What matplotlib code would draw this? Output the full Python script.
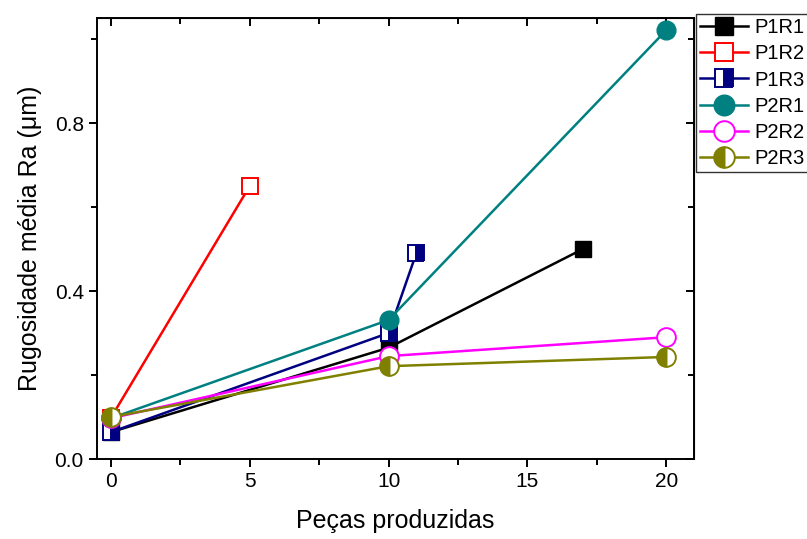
import matplotlib.pyplot as plt
from matplotlib.ticker import MultipleLocator

plt.rcParams['font.family'] = ['Liberation Sans', 'DejaVu Sans']

# Peças produzidas vs Ra (um)
p1r1_x = [0, 10, 17]
p1r1_y = [0.064, 0.265, 0.50]
p1r2_x = [0, 5]
p1r2_y = [0.098, 0.65]
p1r3_x = [0, 10, 11]
p1r3_y = [0.064, 0.30, 0.49]
p2r1_x = [0, 10, 20]
p2r1_y = [0.097, 0.331, 1.021]
p2r2_x = [0, 10, 20]
p2r2_y = [0.097, 0.245, 0.29]
p2r3_x = [0, 10, 20]
p2r3_y = [0.10, 0.221, 0.243]


def main():
    fig = plt.figure(figsize=(8.07, 5.39), dpi=100)
    ax = fig.add_axes([0.1202, 0.1484, 0.7398, 0.8182])

    lw = 1.8
    ax.plot(p1r1_x, p1r1_y, "-s", color="black", lw=lw, ms=11.5,
            mfc="black", mec="black", label="P1R1")
    ax.plot(p1r2_x, p1r2_y, "-s", color="red", lw=lw, ms=11.5,
            mfc="white", mec="red", mew=1.4, label="P1R2")
    ax.plot(p1r3_x, p1r3_y, "-s", color="#000080", lw=lw, ms=11.5,
            fillstyle="right", mfc="#000080", mfcalt="white", mec="#000080",
            mew=1.4, label="P1R3")
    ax.plot(p2r1_x, p2r1_y, "-o", color="#008080", lw=lw, ms=13.5,
            mfc="#008080", mec="#008080", label="P2R1")
    ax.plot(p2r2_x, p2r2_y, "-o", color="#ff00ff", lw=lw, ms=13.5,
            mfc="white", mec="#ff00ff", mew=1.4, label="P2R2")
    ax.plot(p2r3_x, p2r3_y, "-o", color="#808000", lw=lw, ms=13.5,
            fillstyle="left", mfc="#808000", mfcalt="white", mec="#808000",
            mew=1.4, label="P2R3")

    ax.set_xlim(-0.5, 21)
    ax.set_ylim(0, 1.05)
    ax.xaxis.set_major_locator(MultipleLocator(5))
    ax.xaxis.set_minor_locator(MultipleLocator(2.5))
    ax.yaxis.set_major_locator(MultipleLocator(0.4))
    ax.yaxis.set_minor_locator(MultipleLocator(0.2))
    ax.yaxis.set_major_formatter(plt.FuncFormatter(lambda v, p: "%.1f" % v))

    for s in ax.spines.values():
        s.set_linewidth(1.4)
    ax.tick_params(which="both", labelsize=15, width=1.4, direction="out")
    ax.tick_params(which="major", length=6)
    ax.tick_params(which="minor", length=4)

    # mirrored ticks on top/right point inward, no labels
    sx = ax.secondary_xaxis("top")
    sx.set_xticks([0, 5, 10, 15, 20])
    sx.set_xticks([2.5, 7.5, 12.5, 17.5], minor=True)
    sx.tick_params(which="both", direction="in", labeltop=False, width=1.4)
    sx.tick_params(which="major", length=6)
    sx.tick_params(which="minor", length=4)
    sy = ax.secondary_yaxis("right")
    sy.set_yticks([0, 0.4, 0.8])
    sy.set_yticks([0.2, 0.6, 1.0], minor=True)
    sy.tick_params(which="both", direction="in", labelright=False, width=1.4)
    sy.tick_params(which="major", length=6)
    sy.tick_params(which="minor", length=4)

    ax.set_xlabel("Peças produzidas", fontsize=18, labelpad=13)
    ax.set_ylabel("Rugosidade média Ra (μm)", fontsize=18, labelpad=9)

    leg = fig.legend(loc="upper left", bbox_to_anchor=(0.862, 0.974),
                     fontsize=14.5, frameon=True, fancybox=False,
                     handlelength=2.4, handletextpad=0.3, borderpad=0.2,
                     labelspacing=0.36, borderaxespad=0, markerscale=1.1)
    leg.get_frame().set_edgecolor("black")
    leg.get_frame().set_linewidth(1.0)

    fig.savefig("out.png", dpi=100)
    plt.close(fig)


main()
